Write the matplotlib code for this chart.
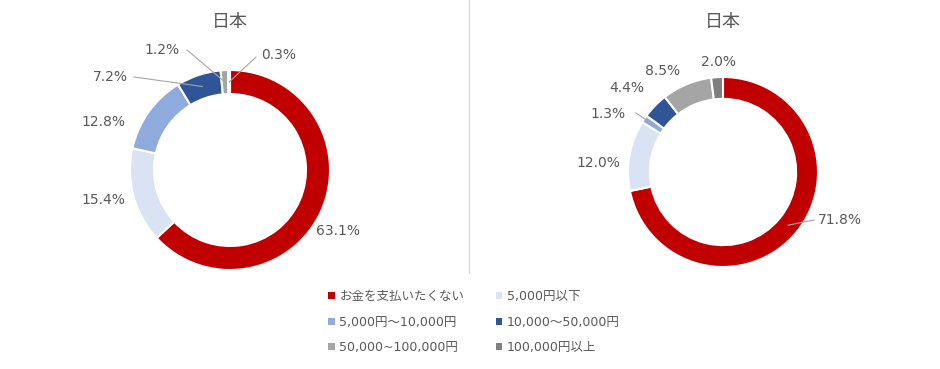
import numpy as np
import matplotlib
matplotlib.use("Agg")
import matplotlib.pyplot as plt
from matplotlib.patches import Patch

plt.rcParams['font.family'] = ['DejaVu Sans', 'Noto Sans CJK JP']

# === Data ===
categories = ["お金を支払いたくない", "5,000円以下", "5,000円～10,000円",
              "10,000～50,000円", "50,000~100,000円", "100,000円以上"]
left_values = [63.1, 15.4, 12.8, 7.2, 1.2, 0.3]
right_values = [71.8, 12.0, 1.3, 4.4, 8.5, 2.0]
titles = ["日本", "日本"]

colors = ["#C00000", "#DAE3F3", "#8FAADC", "#2F5597", "#A5A5A5", "#7F7F7F"]
text_color = "#595959"

W, H = 940, 369
fig = plt.figure(figsize=(W / 100, H / 100), dpi=100)

# overlay in pixel coords for labels / leader lines
over = fig.add_axes([0, 0, 1, 1], zorder=5)
over.set_xlim(0, W)
over.set_ylim(H, 0)
over.axis("off")

# divider line between the two charts
over.plot([469, 469], [0, 273], color="#D9D9D9", lw=1)

# === Donut layout: center (px), radius (px), ring width, label positions, leaders ===
charts = [
    dict(values=left_values, cx=230, cy=170, r=100, width=0.24, title_y=22,
         labels=[(338, 231), (103, 200), (103, 122), (110, 77), (162, 50), (279, 55)],
         leaders=[None, None, None, (134, 77), (187, 50), (256, 57)]),
    dict(values=right_values, cx=723, cy=172, r=95, width=0.23, title_y=22,
         labels=[(840, 220), (598, 163), (608, 114), (627, 88), (663, 71), (718, 62)],
         leaders=[(814, 220), None, (636, 113), None, None, None]),
]

for ch, title in zip(charts, titles):
    r = ch["r"]
    ax = fig.add_axes([(ch["cx"] - r) / W, (H - ch["cy"] - r) / H, 2 * r / W, 2 * r / H])
    wedges, _ = ax.pie(ch["values"], colors=colors, startangle=90, counterclock=False,
                       radius=1, wedgeprops=dict(width=ch["width"], edgecolor="white", linewidth=1.5))
    ax.set_xlim(-1, 1)
    ax.set_ylim(-1, 1)
    ax.set_aspect("equal")
    ax.axis("off")

    over.text(ch["cx"], ch["title_y"], title, ha="center", va="center",
              fontsize=13, color=text_color)

    for v, w, (lx, ly), lead in zip(ch["values"], wedges, ch["labels"], ch["leaders"]):
        over.text(lx, ly, f"{v:.1f}%", ha="center", va="center", fontsize=10, color=text_color)
        if lead is not None:
            mid = np.deg2rad((w.theta1 + w.theta2) / 2)
            rr = r * (1 - ch["width"] / 2)
            ex = ch["cx"] + rr * np.cos(mid)
            ey = ch["cy"] - rr * np.sin(mid)
            over.plot([lead[0], ex], [lead[1], ey], color="#A6A6A6", lw=0.8)

# === Legend (row-major order, like the original) ===
handles = [Patch(facecolor=c, edgecolor="none") for c in colors]
order = [0, 2, 4, 1, 3, 5]
fig.legend([handles[i] for i in order], [categories[i] for i in order],
           loc="upper left", bbox_to_anchor=(317 / W, 1 - 279 / H),
           ncol=2, frameon=False, fontsize=9, labelcolor=text_color,
           handlelength=0.5, handleheight=0.5, handletextpad=0.4,
           columnspacing=2.5, labelspacing=1.0)

plt.savefig("out.png", dpi=100, facecolor="white")
plt.close()
